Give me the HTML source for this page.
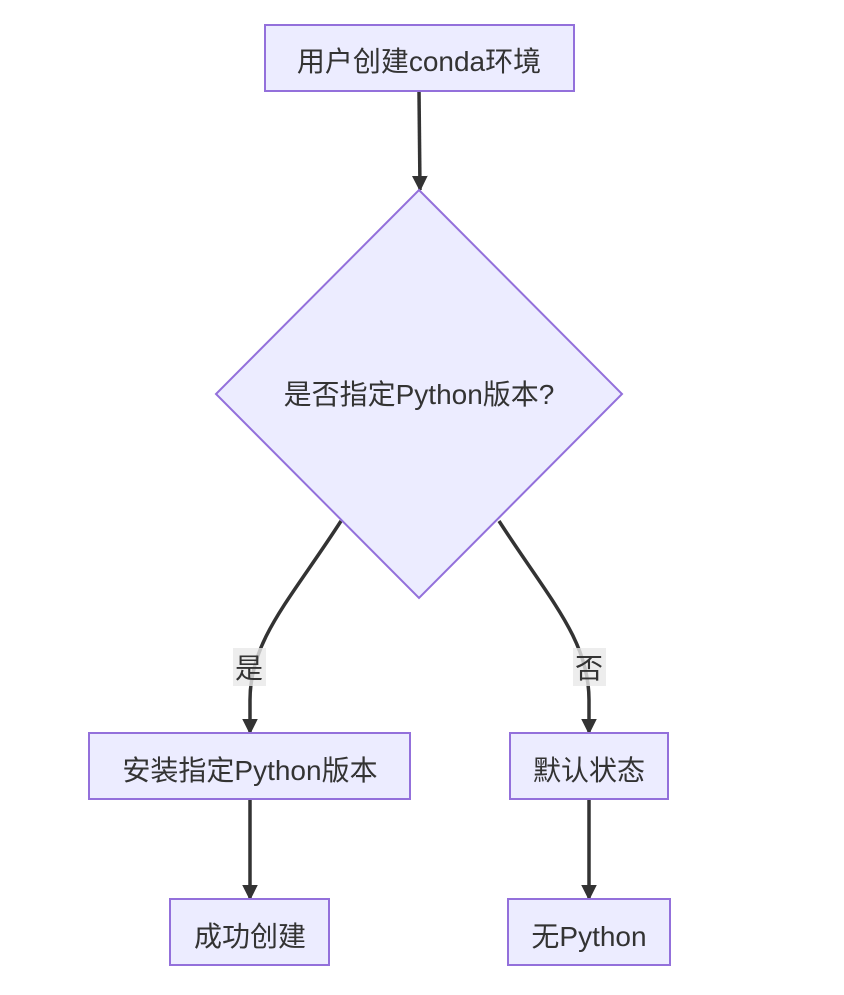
<!DOCTYPE html>
<html><head><meta charset="utf-8"><style>
html,body{margin:0;padding:0;background:#fff;}
svg text{font-family:"Liberation Sans","Noto Sans CJK SC",sans-serif;font-size:28px;fill:#333;}
</style></head><body>
<svg width="844" height="990" viewBox="0 0 844 990" xmlns="http://www.w3.org/2000/svg">
<defs><marker id="a" viewBox="0 0 10 10" refX="9" refY="5" markerWidth="4.5" markerHeight="4.5" markerUnits="strokeWidth" orient="auto"><path d="M0,0L10,5L0,10z" fill="#333"/></marker></defs>
<g fill="none" stroke="#333" stroke-width="3.5">
<path d="M419,91 L420,190" marker-end="url(#a)"/>
<path d="M341,521 C290,600 250,640 250,700 L250,733" marker-end="url(#a)"/>
<path d="M499,521 C550,600 589,640 589,700 L589,733" marker-end="url(#a)"/>
<path d="M250,799 L250,899" marker-end="url(#a)"/>
<path d="M589,799 L589,899" marker-end="url(#a)"/>
</g>
<g fill="#ECECFF" stroke="#9370DB" stroke-width="2">
<rect x="265" y="25" width="309" height="66"/>
<polygon points="419,190 622,394 419,598 216,394"/>
<rect x="89" y="733" width="321" height="66"/>
<rect x="510" y="733" width="158" height="66"/>
<rect x="170" y="899" width="159" height="66"/>
<rect x="508" y="899" width="162" height="66"/>
</g>
<rect x="233" y="648" width="33" height="38" fill="#e8e8e8" opacity="0.8"/>
<rect x="573" y="648" width="33" height="38" fill="#e8e8e8" opacity="0.8"/>
<g text-anchor="middle">
<text x="419" y="71">用户创建conda环境</text>
<text x="419" y="404">是否指定Python版本?</text>
<text x="249" y="678">是</text>
<text x="589" y="678">否</text>
<text x="250" y="780">安装指定Python版本</text>
<text x="589" y="780">默认状态</text>
<text x="250" y="946">成功创建</text>
<text x="589" y="946">无Python</text>
</g>
</svg>
</body></html>
